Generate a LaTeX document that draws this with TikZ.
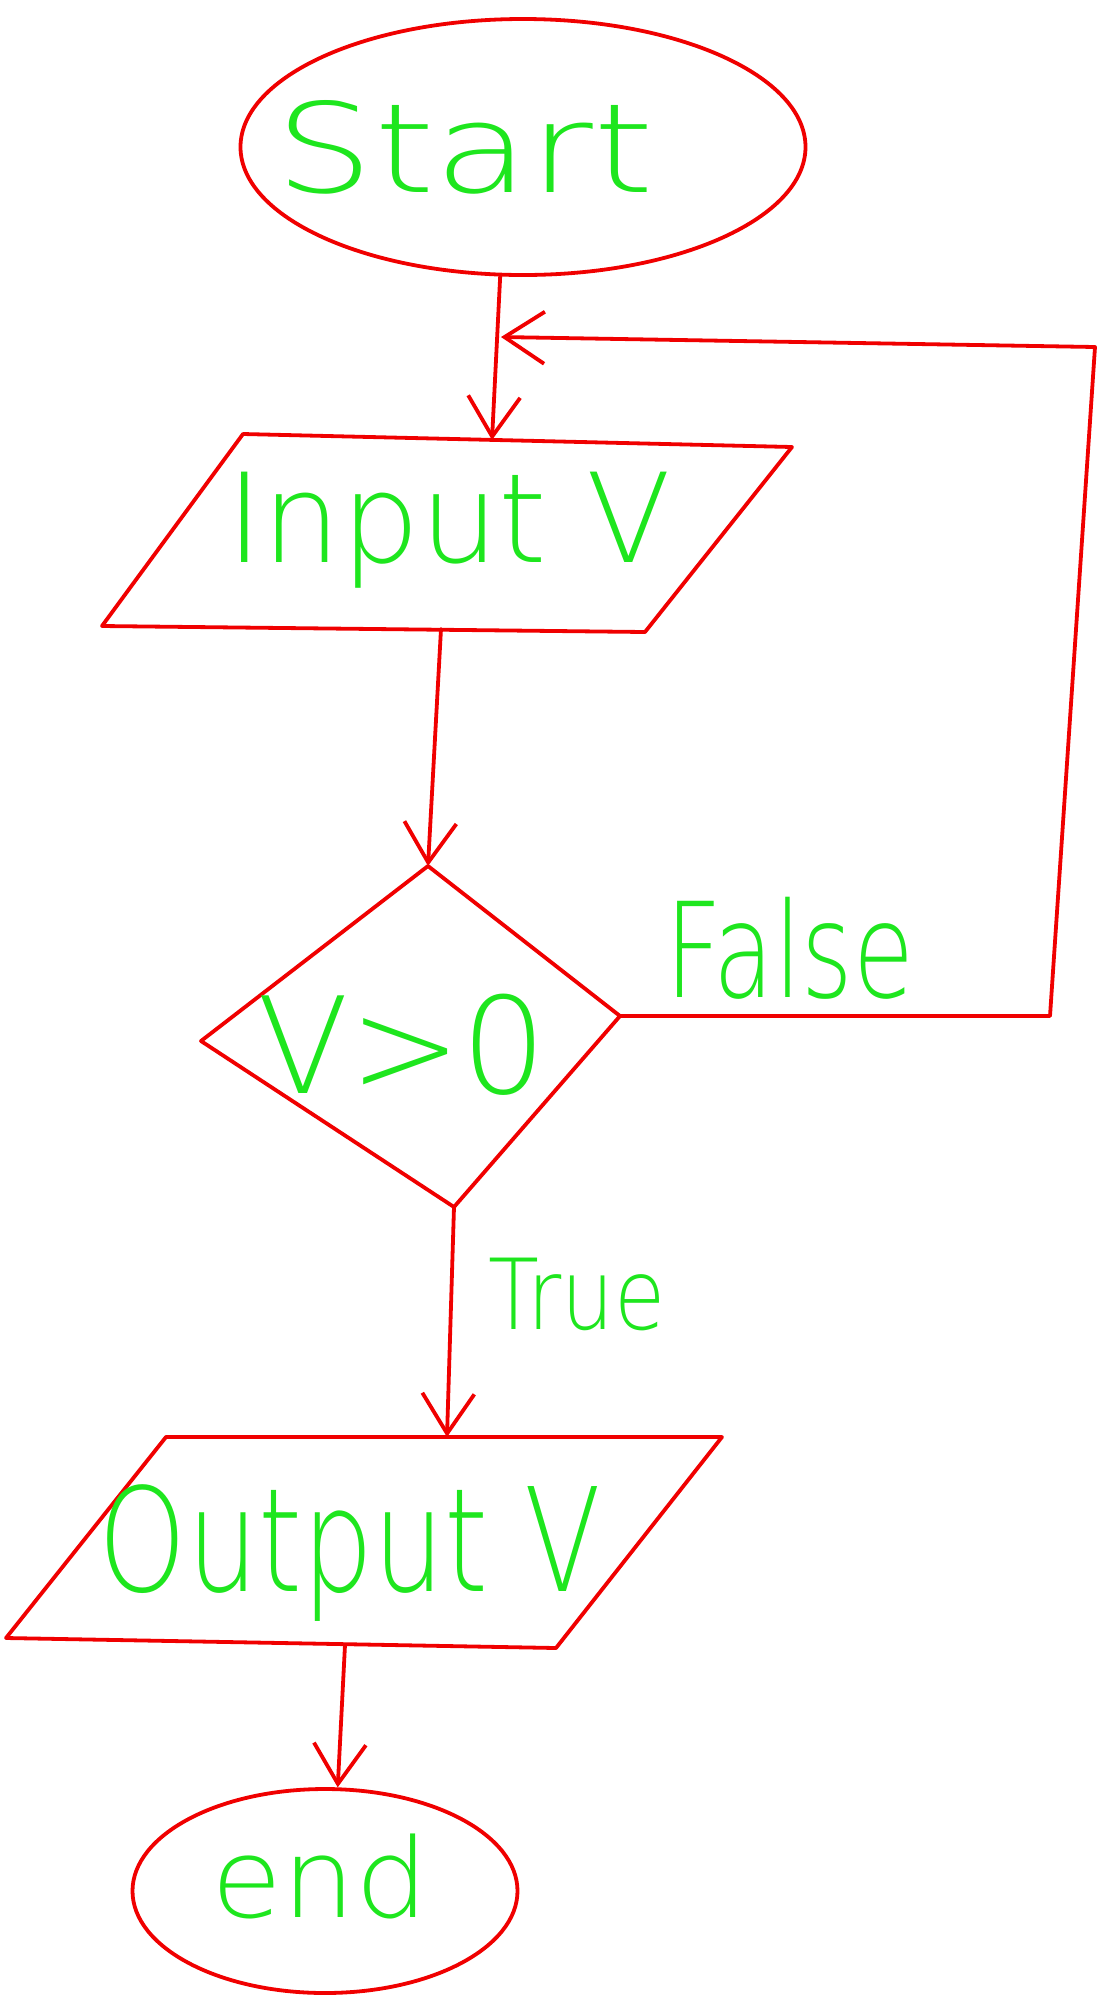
\documentclass[tikz,border=0pt]{standalone}
\usepackage{fontspec}
\setmainfont{DejaVu Sans}[UprightFont={* ExtraLight}]
\usetikzlibrary{arrows.meta,shapes.geometric}
\definecolor{pen}{RGB}{240,0,0}
\definecolor{ink}{RGB}{30,230,30}
\begin{document}
\begin{tikzpicture}[x=0.5pt,y=-0.5pt,
  line/.style={draw=pen,line width=1.9pt,line cap=round,line join=round},
  conn/.style={line,-{Straight Barb[length=20pt,width=26pt,line width=1.9pt]}},
  lbl/.style={text=ink,anchor=base,inner sep=0pt},
  oval/.style={ellipse,line,inner sep=0pt}]
\path[fill=white] (0,0) rectangle (1104,2004);

% Start
\node[oval,minimum width=282.5pt,minimum height=128pt] (start) at (523,147) {};
\node[lbl,font=\fontsize{62pt}{62pt}\selectfont,xscale=1.25] (startT) at (465,192) {Start};

% Input parallelogram
\coordinate (inTL) at (243,434);
\coordinate (inTR) at (792,447);
\coordinate (inBR) at (645,632);
\coordinate (inBL) at (102,626);
\draw[line] (inTL) -- (inTR) -- (inBR) -- (inBL) -- cycle;
\node[lbl,font=\fontsize{62pt}{62pt}\selectfont,xscale=1.0] (inT) at (449,562) {Input V};
\coordinate (inTop) at (492,440);
\coordinate (inBot) at (441,629);

% Decision diamond
\coordinate (dT) at (428,866);
\coordinate (dR) at (620,1016);
\coordinate (dB) at (454,1207);
\coordinate (dL) at (201,1041);
\draw[line] (dT) -- (dR) -- (dB) -- (dL) -- cycle;
\node[lbl,font=\fontsize{67pt}{67pt}\selectfont,xscale=1.0] (condT) at (402,1093) {V>0};

% Output parallelogram
\coordinate (oTL) at (166,1437);
\coordinate (oTR) at (722,1437);
\coordinate (oBR) at (556,1648);
\coordinate (oBL) at (6,1638);
\draw[line] (oTL) -- (oTR) -- (oBR) -- (oBL) -- cycle;
\node[lbl,font=\fontsize{72pt}{72pt}\selectfont,xscale=0.78] (outT) at (350,1591) {Output V};
\coordinate (oTop) at (447,1437);
\coordinate (oBot) at (345,1645);

% End
\node[oval,minimum width=192.5pt,minimum height=102pt] (end) at (325,1891) {};
\node[lbl,font=\fontsize{55pt}{55pt}\selectfont,xscale=1.05] (endT) at (320,1917) {end};

% Connectors
\draw[conn] (start.260) -- (inTop);
\draw[conn] (inBot) -- (dT);
\coordinate (loopA) at (1050,1016);
\coordinate (loopB) at (1095,347);
\coordinate (join) at (501,337);
\draw[conn] (dR) -- (loopA) -- (loopB) -- (join);
\node[lbl,font=\fontsize{66pt}{66pt}\selectfont,xscale=0.75] (falseT) at (790,997) {False};
\draw[conn] (dB) -- (oTop);
\node[lbl,font=\fontsize{49pt}{49pt}\selectfont,xscale=0.85] (trueT) at (577,1329) {True};
\draw[conn] (oBot) -- (end.83);
\end{tikzpicture}
\end{document}
